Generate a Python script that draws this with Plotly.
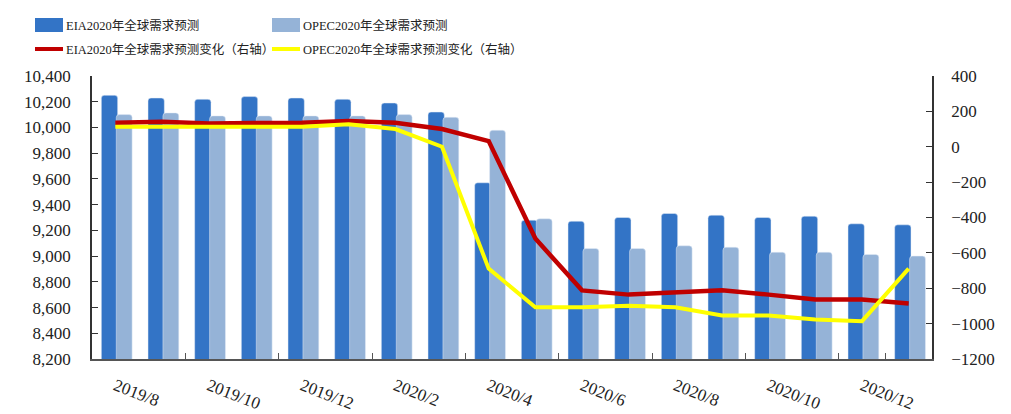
import plotly.graph_objects as go

months = ["2019/8", "2019/9", "2019/10", "2019/11", "2019/12", "2020/1", "2020/2", "2020/3",
          "2020/4", "2020/5", "2020/6", "2020/7", "2020/8", "2020/9", "2020/10", "2020/11",
          "2020/12", "2021/1"]
eia_forecast = [10250, 10229, 10219, 10240, 10229, 10219, 10190, 10120, 9570, 9279, 9271,
                9300, 9331, 9318, 9300, 9310, 9251, 9243]
opec_forecast = [10100, 10113, 10090, 10090, 10090, 10090, 10100, 10079, 9978, 9290, 9059,
                 9059, 9080, 9069, 9030, 9030, 9013, 9000]
eia_change = [136, 142, 132, 132, 136, 146, 136, 100, 32, -519, -812, -836, -821, -812,
              -836, -863, -863, -886]
opec_change = [113, 113, 113, 113, 113, 127, 100, 0, -689, -907, -907, -899, -907, -954,
               -954, -977, -986, -689]

names = ["EIA2020年全球需求预测", "OPEC2020年全球需求预测",
         "EIA2020年全球需求预测变化（右轴）", "OPEC2020年全球需求预测变化（右轴）"]

C_EIA = "#3374C6"
C_OPEC = "#95B3D7"
C_RED = "#C00000"
C_YEL = "#FFFF00"
FONT = "Liberation Serif, Noto Sans CJK SC, serif"

W, H = 1011, 414
L, R, T, B = 92, 79, 76, 55

fig = go.Figure()
fig.add_trace(go.Bar(x=months, y=eia_forecast, name=names[0], marker_color=C_EIA,
                     offset=-0.3, width=0.35, marker_cornerradius=3, showlegend=False))
fig.add_trace(go.Bar(x=months, y=opec_forecast, name=names[1], marker_color=C_OPEC,
                     offset=0.02, width=0.34, marker_cornerradius=3, showlegend=False))
fig.add_trace(go.Scatter(x=months, y=eia_change, name=names[2], mode="lines",
                         line=dict(color=C_RED, width=4.5), yaxis="y2", showlegend=False))
fig.add_trace(go.Scatter(x=months, y=opec_change, name=names[3], mode="lines",
                         line=dict(color=C_YEL, width=4), yaxis="y2", showlegend=False))

pw, ph = W - L - R, H - T - B


def px(x):
    return (x - L) / pw


def py(y):
    return (H - B - y) / ph


shapes = []
annotations = []
legend_items = [
    (35, 25, "rect", C_EIA, names[0]),
    (272, 25, "rect", C_OPEC, names[1]),
    (35, 49, "line", C_RED, names[2]),
    (272, 49, "line", C_YEL, names[3]),
]
for x0, yc, kind, col, txt in legend_items:
    if kind == "rect":
        shapes.append(dict(type="rect", xref="paper", yref="paper",
                           x0=px(x0), x1=px(x0 + 28), y0=py(yc + 7), y1=py(yc - 7),
                           fillcolor=col, line=dict(width=0)))
    else:
        shapes.append(dict(type="line", xref="paper", yref="paper",
                           x0=px(x0), x1=px(x0 + 28), y0=py(yc), y1=py(yc),
                           line=dict(color=col, width=4)))
    annotations.append(dict(xref="paper", yref="paper", x=px(x0 + 29), y=py(yc),
                            xanchor="left", yanchor="middle", showarrow=False,
                            text=txt, font=dict(family=FONT, size=12.5, color="#222222")))

fig.update_layout(
    width=W, height=H, autosize=False,
    margin=dict(l=L, r=R, t=T, b=B, autoexpand=False),
    paper_bgcolor="white", plot_bgcolor="white",
    barmode="overlay",
    font=dict(family=FONT, size=17, color="#222222"),
    shapes=shapes, annotations=annotations,
    xaxis=dict(type="category", tickmode="array", tickvals=months[::2],
               tickson="boundaries", ticks="inside", ticklen=6, tickcolor="#555555",
               tickangle=21, showline=True, linecolor="#555555", linewidth=1.5,
               showgrid=False, ticklabelstandoff=9, automargin=False,
               tickfont=dict(size=17),
               range=[-0.5, len(months) - 0.5]),
    yaxis=dict(range=[8200, 10400], dtick=200, tick0=8200, tickformat=",",
               showline=True, linecolor="#333333", linewidth=1.5, ticks="inside",
               ticklen=6, tickcolor="#333333", showgrid=False, zeroline=False,
               ticklabelstandoff=16, automargin=False),
    yaxis2=dict(range=[-1200, 400], dtick=200, tick0=-1200, overlaying="y", side="right",
                showline=True, linecolor="#333333", linewidth=1.5, ticks="inside",
                ticklen=6, tickcolor="#333333", showgrid=False, zeroline=False,
                ticklabelstandoff=14, automargin=False),
)

fig.write_html("out.html", config={"displayModeBar": False},
               post_script="document.body.style.margin='0';document.body.style.overflow='hidden';")
